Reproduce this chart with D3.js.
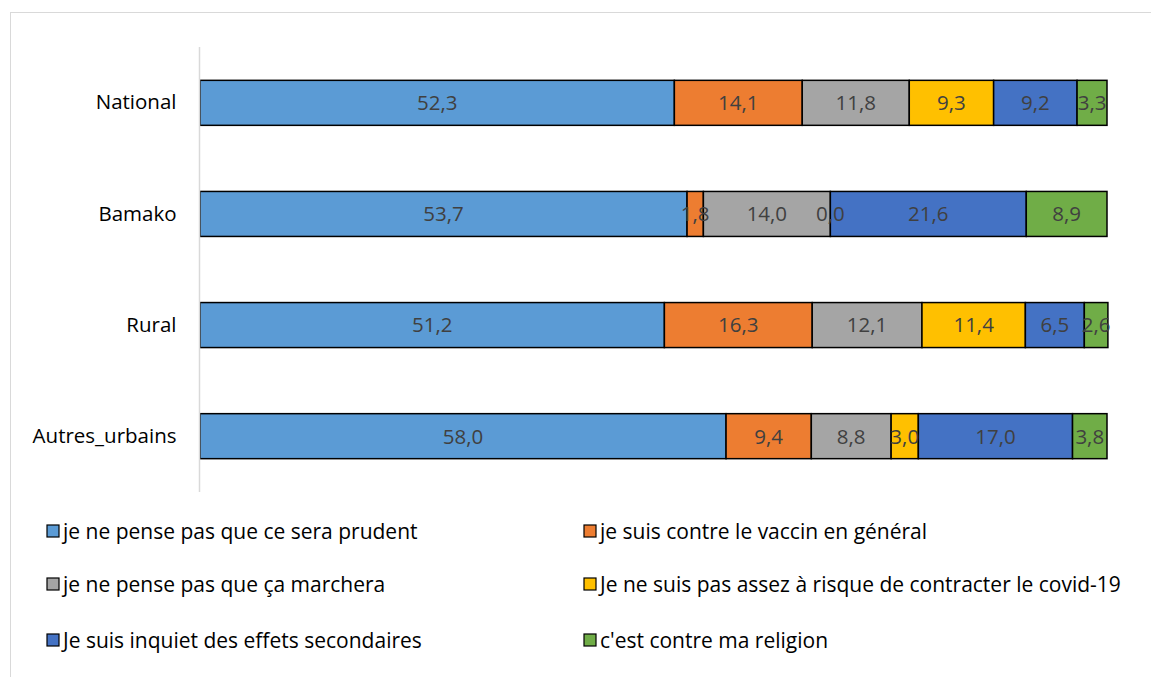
<!DOCTYPE html>
<html>
<head>
<meta charset="utf-8">
<script src="https://cdn.jsdelivr.net/npm/d3@7"></script>
<style>
body{margin:0;background:#fff;}
text{font-family:"Open Sans",sans-serif;}
</style>
</head>
<body>
<svg id="chart" width="1151" height="677"></svg>
<script>
var categories=['National','Bamako','Rural','Autres_urbains'];
var seriesNames=['je ne pense pas que ce sera prudent','je suis contre le vaccin en général','je ne pense pas que ça marchera','Je ne suis pas assez à risque de contracter le covid-19','Je suis inquiet des effets secondaires',"c'est contre ma religion"];
var colors=['#5B9BD5','#ED7D31','#A5A5A5','#FFC000','#4472C4','#70AD47'];
var prudent=[52.3,53.7,51.2,58.0];
var contreVaccin=[14.1,1.8,16.3,9.4];
var marchera=[11.8,14.0,12.1,8.8];
var risque=[9.3,0.0,11.4,3.0];
var effets=[9.2,21.6,6.5,17.0];
var religion=[3.3,8.9,2.6,3.8];
var values=[prudent,contreVaccin,marchera,risque,effets,religion];

var svg=d3.select('#chart');
// chart border
svg.append('rect').attr('x',10.5).attr('y',12.5).attr('width',1150).attr('height',680)
  .attr('fill','none').attr('stroke','#d9d9d9');

var x=d3.scaleLinear().domain([0,100]).range([200,1107]);
var y=d3.scaleBand().domain(categories).range([47,492]).paddingInner(0.595).paddingOuter(0.3);

var rows=categories.map(function(c,i){
  var o={cat:c};
  seriesNames.forEach(function(s,j){o[s]=values[j][i];});
  return o;
});
var stacked=d3.stack().keys(seriesNames)(rows);

var g=svg.append('g');
stacked.forEach(function(layer,j){
  g.selectAll('.r'+j).data(layer).enter().append('rect')
    .attr('x',function(d){return x(d[0]);})
    .attr('y',function(d){return y(d.data.cat);})
    .attr('width',function(d){return x(d[1])-x(d[0]);})
    .attr('height',y.bandwidth())
    .attr('fill',colors[j])
    .attr('stroke','#000').attr('stroke-width',1.5);
});
stacked.forEach(function(layer,j){
  g.selectAll('.t'+j).data(layer).enter().append('text')
    .attr('x',function(d){return (x(d[0])+x(d[1]))/2;})
    .attr('y',function(d){return y(d.data.cat)+y.bandwidth()/2;})
    .attr('dy','0.36em').attr('text-anchor','middle')
    .attr('font-size',20.5).attr('fill','#404040')
    .text(function(d){return d3.format('.1f')(d[1]-d[0]).replace('.',',');});
});

// axis
var ax=svg.append('g').attr('transform','translate(199.5,0)')
  .call(d3.axisLeft(y).tickSize(0).tickPadding(23));
ax.select('.domain').attr('stroke','#d9d9d9').attr('stroke-width',1.5).attr('d','M0,47V492');
ax.selectAll('text').attr('font-size',20.5).attr('fill','#000')
  .style('font-family','"Open Sans",sans-serif');

// legend
var legX=[47,584], legY=[531,584,640];
seriesNames.forEach(function(s,i){
  var lx=legX[i%2], ly=legY[Math.floor(i/2)];
  var lg=svg.append('g').attr('transform','translate('+lx+','+ly+')');
  lg.append('rect').attr('x',0).attr('y',-6).attr('width',12).attr('height',12)
    .attr('fill',colors[i]).attr('stroke','#000').attr('stroke-width',1.2);
  lg.append('text').attr('x',16).attr('y',0).attr('dy','0.36em')
    .attr('font-size',21).attr('fill','#000').text(s);
});
</script>
</body>
</html>
